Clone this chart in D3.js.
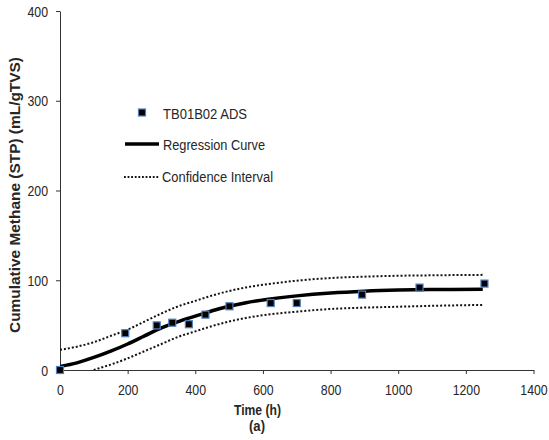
<!DOCTYPE html>
<html>
<head>
<meta charset="utf-8">
<script src="https://cdn.jsdelivr.net/npm/d3@7"></script>
<style>
  html, body { margin: 0; padding: 0; background: #fff; }
  svg { display: block; font-family: "Liberation Sans", Arial, sans-serif; }
</style>
</head>
<body>
<svg id="chart" width="549" height="440"></svg>
<script>
// Observed cumulative methane yield
const timeObs    = [0, 193, 286, 332, 381, 430, 501, 623, 700, 893, 1063, 1255];
const methaneObs = [0, 41, 49.7, 52.7, 51, 61.7, 71, 74.6, 74.6, 84, 91.8, 96.3];

// Fitted regression curve and its confidence band
const curveTime  = [0, 50, 100, 150, 200, 250, 300, 350, 400, 450, 500, 550, 600, 700, 800, 900, 1000, 1100, 1250];
const regression = [4, 8, 14, 21, 29, 38, 47, 54, 60, 66, 71, 75, 78, 82.6, 85.8, 87.8, 89, 89.6, 90];
const upperCI    = [22.5, 26, 31, 38, 45, 54, 63, 71, 77, 83, 88, 92, 95, 99.5, 102.5, 104, 105, 105.5, 106];
const lowerCI    = [-14, -8, 0, 6, 13, 21, 29, 37, 43, 49, 54, 58, 61, 65, 68, 69.5, 70.5, 71.5, 72.5];

// Axis ticks
const xTicks = [0, 200, 400, 600, 800, 1000, 1200, 1400];
const yTicks = [0, 100, 200, 300, 400];

// Legend entries
const legendLabels = ["TB01B02 ADS", "Regression Curve", "Confidence Interval"];

const svg = d3.select("#chart");
const plot = { left: 60, right: 533.5, top: 11, bottom: 370 };

const x = d3.scaleLinear().domain([0, 1400]).range([plot.left, plot.right]);
const y = d3.scaleLinear().domain([0, 400]).range([plot.bottom, plot.top]);

const textColor = "#262626";
const axisColor = "#333";
const squeeze = 0.88;

// clip lines to the plot area
svg.append("defs").append("clipPath").attr("id", "plotClip")
  .append("rect")
  .attr("x", plot.left).attr("y", plot.top)
  .attr("width", plot.right - plot.left).attr("height", plot.bottom - plot.top);

// X axis
const xAxis = svg.append("g")
  .attr("transform", `translate(0,${plot.bottom})`)
  .call(d3.axisBottom(x).tickValues(xTicks).tickFormat(d3.format("d"))
    .tickSize(4).tickSizeOuter(0).tickPadding(0));
xAxis.select(".domain").attr("stroke", axisColor);
xAxis.selectAll(".tick line").attr("stroke", axisColor);
xAxis.selectAll(".tick text")
  .attr("y", 25).attr("dy", null)
  .attr("transform", `scale(${squeeze},1)`)
  .attr("font-size", 14).attr("fill", textColor)
  .attr("font-family", "Liberation Sans, Arial, sans-serif");

// Y axis
const yAxis = svg.append("g")
  .attr("transform", `translate(${plot.left},0)`)
  .call(d3.axisLeft(y).tickValues(yTicks).tickFormat(d3.format("d"))
    .tickSize(4).tickSizeOuter(0).tickPadding(0));
yAxis.select(".domain").attr("stroke", axisColor);
yAxis.selectAll(".tick line").attr("stroke", axisColor);
yAxis.selectAll(".tick text")
  .attr("x", -12 / squeeze).attr("dy", "0.36em")
  .attr("transform", `scale(${squeeze},1)`)
  .attr("font-size", 14).attr("fill", textColor)
  .attr("font-family", "Liberation Sans, Arial, sans-serif");

// Axis titles
svg.append("text")
  .attr("transform", "translate(20,195) rotate(-90)")
  .attr("text-anchor", "middle")
  .attr("font-size", 14).attr("font-weight", "bold").attr("fill", textColor)
  .attr("textLength", 276).attr("lengthAdjust", "spacingAndGlyphs")
  .text("Cumulative Methane (STP) (mL/gTVS)");

svg.append("text")
  .attr("x", 257.5).attr("y", 415)
  .attr("text-anchor", "middle")
  .attr("font-size", 14).attr("font-weight", "bold").attr("fill", textColor)
  .attr("textLength", 47).attr("lengthAdjust", "spacingAndGlyphs")
  .text("Time (h)");

svg.append("text")
  .attr("x", 257).attr("y", 431)
  .attr("text-anchor", "middle")
  .attr("font-size", 14).attr("font-weight", "bold").attr("fill", textColor)
  .attr("textLength", 16).attr("lengthAdjust", "spacingAndGlyphs")
  .text("(a)");

// Curves
const lineGen = vals => d3.line()
  .x((d, i) => x(curveTime[i]))
  .y(d => y(d))
  .curve(d3.curveMonotoneX)(vals);

const curves = svg.append("g").attr("clip-path", "url(#plotClip)");

[upperCI, lowerCI].forEach(band => {
  curves.append("path")
    .attr("d", lineGen(band))
    .attr("fill", "none")
    .attr("stroke", "#111")
    .attr("stroke-width", 2)
    .attr("stroke-dasharray", "2,2");
});

curves.append("path")
  .attr("d", lineGen(regression))
  .attr("fill", "none")
  .attr("stroke", "#000")
  .attr("stroke-width", 3.5)
  .attr("stroke-linejoin", "round");

// Observed points
const mSize = 7;
svg.append("g").selectAll("rect")
  .data(timeObs)
  .join("rect")
  .attr("x", (d) => x(d) - mSize / 2)
  .attr("y", (d, i) => y(methaneObs[i]) - mSize / 2)
  .attr("width", mSize).attr("height", mSize)
  .attr("fill", "#000")
  .attr("stroke", "#4f7fc0")
  .attr("stroke-width", 1.2);

// Legend
const legend = svg.append("g");
legend.append("rect")
  .attr("x", 142 - mSize / 2).attr("y", 112.5 - mSize / 2)
  .attr("width", mSize).attr("height", mSize)
  .attr("fill", "#000").attr("stroke", "#4f7fc0").attr("stroke-width", 1.2);
legend.append("line")
  .attr("x1", 125).attr("x2", 159).attr("y1", 144).attr("y2", 144)
  .attr("stroke", "#000").attr("stroke-width", 3.5);
legend.append("line")
  .attr("x1", 124).attr("x2", 159).attr("y1", 177).attr("y2", 177)
  .attr("stroke", "#111").attr("stroke-width", 1.8).attr("stroke-dasharray", "1.8,1.8");

const legendPos = [
  { x: 163, y: 118.5, w: 84 },
  { x: 163, y: 150, w: 102 },
  { x: 162, y: 182, w: 111 }
];
legend.selectAll("text.lab")
  .data(legendLabels)
  .join("text")
  .attr("class", "lab")
  .attr("x", (d, i) => legendPos[i].x)
  .attr("y", (d, i) => legendPos[i].y)
  .attr("font-size", 14).attr("fill", textColor)
  .attr("textLength", (d, i) => legendPos[i].w)
  .attr("lengthAdjust", "spacingAndGlyphs")
  .text(d => d);
</script>
</body>
</html>
